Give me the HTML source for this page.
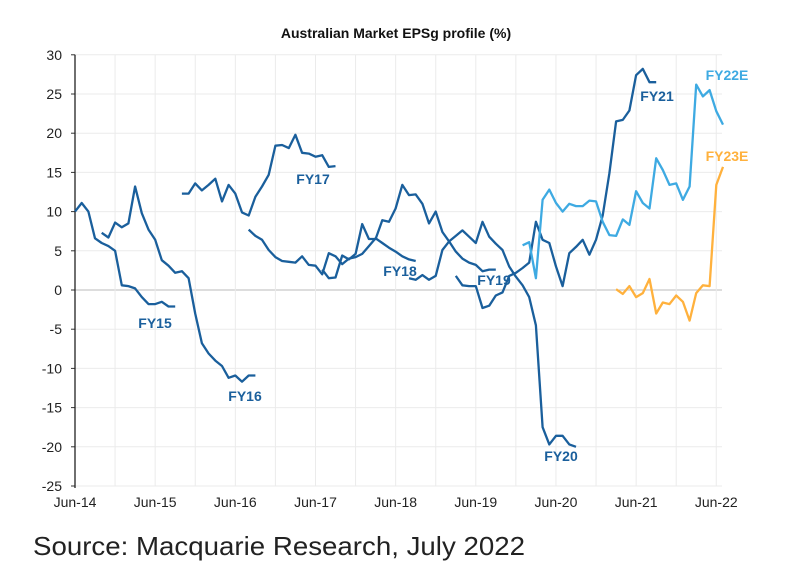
<!DOCTYPE html>
<html><head><meta charset="utf-8"><style>
body{margin:0;background:#fff;}
svg{display:block;font-family:"Liberation Sans",Arial,sans-serif;}
</style></head><body>
<svg id="chart" width="792" height="565" viewBox="0 0 792 565">
<text x="396" y="38" text-anchor="middle" font-size="14" font-weight="bold" fill="#111">Australian Market EPSg profile (%)</text>
<g id="grid"></g>
<g id="axes"></g>
<g id="series"></g>
<g id="labels"></g>
<text x="33" y="555" font-size="26" fill="#222" textLength="492" lengthAdjust="spacingAndGlyphs">Source: Macquarie Research, July 2022</text>
</svg>
<script>
const yTicks=[30,25,20,15,10,5,0,-5,-10,-15,-20,-25];
const xTickLabels=["Jun-14","Jun-15","Jun-16","Jun-17","Jun-18","Jun-19","Jun-20","Jun-21","Jun-22"];
const fy15M=[0,1,2,3,4,5,6,7,8,9,10,11,12,13,14,15];
const fy15V=[10,11.1,10,6.6,6,5.6,5,0.6,0.5,0.2,-0.9,-1.8,-1.8,-1.5,-2.1,-2.1];
const fy16M=[4,5,6,7,8,9,10,11,12,13,14,15,16,17,18,19,20,21,22,23,24,25,26,27];
const fy16V=[7.3,6.7,8.6,8,8.5,13.2,9.8,7.7,6.4,3.8,3.1,2.2,2.4,1.5,-3,-6.8,-8.1,-9,-9.7,-11.2,-10.9,-11.7,-10.9,-10.9];
const fy17M=[16,17,18,19,20,21,22,23,24,25,26,27,28,29,30,31,32,33,34,35,36,37,38,39];
const fy17V=[12.3,12.3,13.6,12.7,13.4,14.2,11.3,13.4,12.3,9.9,9.5,11.9,13.2,14.7,18.4,18.5,18.1,19.8,17.5,17.4,17,17.2,15.7,15.8];
const fy18M=[26,27,28,29,30,31,32,33,34,35,36,37,38,39,40,41,42,43,44,45,46,47,48,49,50,51];
const fy18V=[7.7,6.9,6.4,5.1,4.2,3.7,3.6,3.5,4.3,3.2,3.1,2,4.7,4.3,3.3,4,4.2,4.6,5.6,6.6,6,5.4,4.9,4.3,3.9,3.7];
const fy19M=[37,38,39,40,41,42,43,44,45,46,47,48,49,50,51,52,53,54,55,56,57,58,59,60,61,62,63];
const fy19V=[2.6,1.5,1.6,4.4,3.9,4.6,8.4,6.5,6.5,8.9,8.7,10.4,13.4,12.1,12.2,11,8.5,10,7.4,6.2,4.9,4,3.5,3.2,2.4,2.6,2.6];
const fy20M=[50,51,52,53,54,55,56,57,58,59,60,61,62,63,64,65,66,67,68,69,70,71,72,73,74,75];
const fy20V=[1.5,1.3,1.9,1.3,1.8,5.1,6.2,6.9,7.6,6.8,6,8.7,6.8,5.9,5.1,3,1.7,0.6,-0.9,-4.5,-17.5,-19.7,-18.6,-18.6,-19.7,-20];
const fy21M=[57,58,59,60,61,62,63,64,65,66,67,68,69,70,71,72,73,74,75,76,77,78,79,80,81,82,83,84,85,86,87];
const fy21V=[1.8,0.6,0.5,0.5,-2.3,-2,-0.7,-0.3,1.8,2.2,2.8,3.5,8.7,6.4,6,3,0.5,4.7,5.5,6.4,4.5,6.4,9.5,14.9,21.5,21.7,22.9,27.4,28.2,26.5,26.5];
const fy22M=[67,68,69,70,71,72,73,74,75,76,77,78,79,80,81,82,83,84,85,86,87,88,89,90,91,92,93,94,95,96,97];
const fy22V=[5.7,6.1,1.5,11.5,12.8,11.1,10,11,10.7,10.7,11.4,11.3,8.7,7,6.9,9,8.3,12.6,11.1,10.4,16.8,15.3,13.4,13.6,11.5,13.2,26.2,24.7,25.5,22.8,21.1];
const fy23M=[81,82,83,84,85,86,87,88,89,90,91,92,93,94,95,96,97];
const fy23V=[0.1,-0.5,0.5,-0.9,-0.4,1.4,-3,-1.6,-1.8,-0.7,-1.5,-3.9,-0.4,0.6,0.5,13.4,15.7];

const X0=75,PX=6.68,Y0=290,PY=7.84,RIGHT=722;
const xs=m=>X0+m*PX, ys=v=>Y0-v*PY;
const NS="http://www.w3.org/2000/svg";
function mk(t,a,p){const e=document.createElementNS(NS,t);for(const k in a)e.setAttribute(k,a[k]);p.appendChild(e);return e;}
const grid=document.getElementById('grid'),axes=document.getElementById('axes'),ser=document.getElementById('series'),lab=document.getElementById('labels');
yTicks.forEach(v=>{
  const l=mk('line',{x1:X0,x2:RIGHT,y1:ys(v),y2:ys(v),stroke:v===0?'#bbb':'#ebebeb','stroke-width':1},grid);
  
  
  const tk=mk('line',{x1:X0-4,x2:X0,y1:ys(v),y2:ys(v),stroke:'#333'},axes);
  
  
  const t=mk('text',{x:X0-13,y:ys(v)+5,'text-anchor':'end','font-size':14,fill:'#222'},axes);
  t.textContent=v;
  
  
});
for(let m=6;m<=96;m+=6){
  const l=mk('line',{x1:xs(m),x2:xs(m),y1:ys(30),y2:ys(-25),stroke:'#ebebeb'},grid);
  
  
}
xTickLabels.forEach((s,i)=>{
  const t=mk('text',{x:xs(i*12),y:507,'text-anchor':'middle','font-size':14,fill:'#222'},axes);
  t.textContent=s;
  
  
});
const ax=mk('line',{x1:X0,x2:X0,y1:ys(30),y2:ys(-25)+2,stroke:'#222','stroke-width':1.3},axes);


const DB='#1a5f9c',LB='#3eaae2',OR='#ffb13d';
const list=[['fy15',fy15M,fy15V,DB],['fy16',fy16M,fy16V,DB],['fy17',fy17M,fy17V,DB],['fy18',fy18M,fy18V,DB],['fy19',fy19M,fy19V,DB],['fy20',fy20M,fy20V,DB],['fy21',fy21M,fy21V,DB],['fy22e',fy22M,fy22V,LB],['fy23e',fy23M,fy23V,OR]];
list.forEach(([n,M,V,c])=>{
  const d=M.map((m,i)=>(i?'L':'M')+xs(m).toFixed(1)+','+ys(V[i]).toFixed(1)).join('');
  const p=mk('path',{d:d,fill:'none',stroke:c,'stroke-width':2.3,'stroke-linejoin':'round'},ser);
  
  
});
const labs=[['FY15',155,328,DB],['FY16',245,401,DB],['FY17',313,184,DB],['FY18',400,276,DB],['FY19',494,285,DB],['FY20',561,461,DB],['FY21',657,101,DB],['FY22E',727,80,LB],['FY23E',727,161,OR]];
labs.forEach(([s,x,y,c])=>{
  const t=mk('text',{x:x,y:y,'text-anchor':'middle','font-size':14,'font-weight':'bold',fill:c},lab);
  t.textContent=s;
  
  
});
</script>
</body></html>
